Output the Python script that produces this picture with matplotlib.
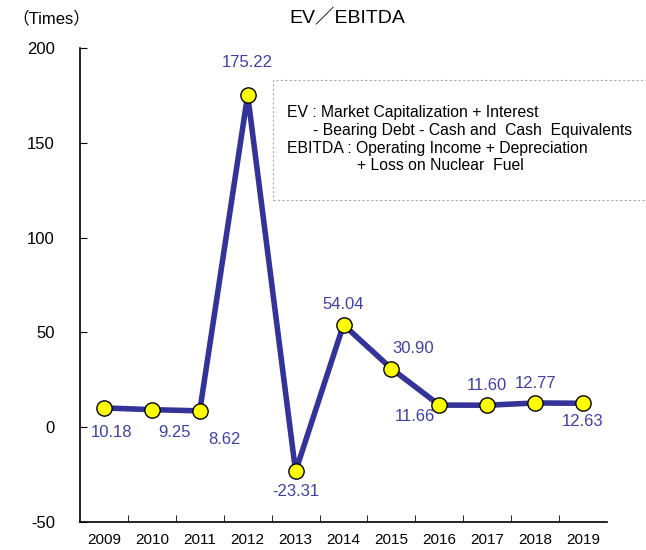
import matplotlib.pyplot as plt
from matplotlib.patches import Rectangle

plt.rcParams['font.family'] = ['Liberation Sans', 'Noto Sans CJK JP']
plt.rcParams['axes.unicode_minus'] = False

years = ['2009', '2010', '2011', '2012', '2013', '2014', '2015', '2016', '2017', '2018', '2019']
values = [10.18, 9.25, 8.62, 175.22, -23.31, 54.04, 30.90, 11.66, 11.60, 12.77, 12.63]
labels = ['10.18', '9.25', '8.62', '175.22', '-23.31', '54.04', '30.90', '11.66', '11.60', '12.77', '12.63']
# label offsets in pixels (dx, dy), dy positive = up
offsets = [(8, -25), (23, -23), (25, -29), (0, 32), (0, -20), (0, 20),
           (22, 20), (-24, -11), (0, 20), (0, 19), (0, -18)]

fig = plt.figure(figsize=(6.46, 5.5), dpi=100)
ax = fig.add_axes([80 / 646, 28 / 550, 527 / 646, 474 / 550])

x = list(range(len(years)))
ax.plot(x, values, color='#333399', lw=4, zorder=2)
ax.plot(x, values, 'o', ms=11, mfc='#FFFF00', mec='black', mew=1, zorder=3)

for xi, v, lab, (dx, dy) in zip(x, values, labels, offsets):
    ax.annotate(lab, (xi, v), xytext=(dx * 0.72, dy * 0.72), textcoords='offset points',
                ha='center', va='center', fontsize=12, color='#3F3FA8')

ax.set_xlim(-0.5, len(years) - 0.5)
ax.set_ylim(-50, 200)
ax.set_yticks([-50, 0, 50, 100, 150, 200])
ax.set_xticks(x)
ax.set_xticklabels(years, fontsize=11)
ax.set_xticks([i + 0.5 for i in x[:-1]], minor=True)
ax.tick_params(axis='x', which='major', length=0, pad=8)
ax.tick_params(axis='x', which='minor', direction='in', length=5)
ax.tick_params(axis='y', direction='in', length=5, labelsize=12, pad=18)
for s in ['top', 'right']:
    ax.spines[s].set_visible(False)
ax.spines['left'].set_linewidth(1.2)
ax.spines['bottom'].set_linewidth(1.2)

fig.text(347 / 646, 1 - 18 / 550, 'EV／EBITDA', ha='center', va='center', fontsize=14)
fig.text(12 / 646, 1 - 18 / 550, '（Times）', ha='left', va='center', fontsize=12)

# note box
fig.patches.append(Rectangle((273 / 646, 1 - 200 / 550), 380 / 646, 120 / 550,
                             transform=fig.transFigure, fill=False, ec='#AAAAAA',
                             ls=(0, (2, 2)), lw=0.8))
note = ['EV : Market Capitalization + Interest',
        '- Bearing Debt - Cash and  Cash  Equivalents',
        'EBITDA : Operating Income + Depreciation',
        '+ Loss on Nuclear  Fuel']
note_x = [287, 313, 287, 357]
for i, line in enumerate(note):
    fig.text(note_x[i] / 646, 1 - (112 + 18 * i) / 550, line, ha='left', va='center', fontsize=11.3)

fig.savefig('out.png', dpi=100)
